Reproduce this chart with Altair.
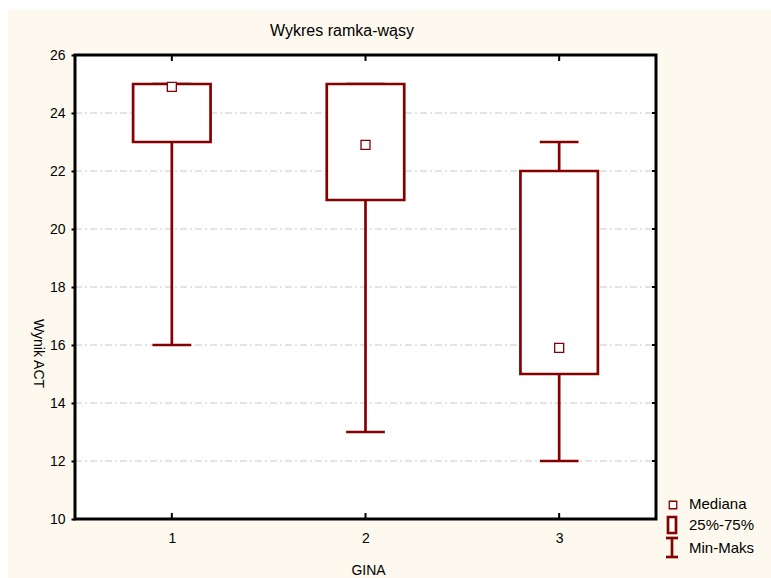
import altair as alt
import pandas as pd

# Box-and-whisker summary of ACT scores for each GINA group
groups = [1, 2, 3]
mins = [16, 13, 12]
q1s = [23, 21, 15]
medians = [24.9, 22.9, 15.9]
q3s = [25, 25, 22]
maxs = [25, 25, 23]

y_ticks = [10, 12, 14, 16, 18, 20, 22, 24, 26]
grid_vals = [12, 14, 16, 18, 20, 22, 24]

legend_labels = ["Mediana", "25%-75%", "Min-Maks"]

W, H = 581, 464
RED = "#850000"
CREAM = "#FDF9EE"
FONT = "Liberation Sans"
BOX_HALF = 0.2
CAP_HALF = 0.1
LW = 2.7

df = pd.DataFrame({
    "grupa": groups, "min": mins, "q1": q1s,
    "med": medians, "q3": q3s, "max": maxs,
})
grid_df = pd.DataFrame({"v": grid_vals})
one = pd.DataFrame({"k": [0]})

xs = alt.Scale(domain=[0.5, 3.5], nice=False, zero=False)
ys = alt.Scale(domain=[10, 26], nice=False, zero=False)

# the same axis definitions are given to every layer so they merge cleanly
ax_x = alt.Axis(values=groups, title="GINA", ticks=False, tickSize=0,
                labelPadding=12, domain=False, grid=False, zindex=1,
                labelFontSize=14, labelColor="black", labelFont=FONT,
                titleFont=FONT, titleFontSize=14, titleFontWeight="normal",
                titleColor="black", titleX=293, titleY=51,
                titleBaseline="middle", titleAlign="center")
ax_y = alt.Axis(values=y_ticks, title="Wynik ACT", tickSize=4, tickWidth=2,
                tickColor="black", labelPadding=6, domain=False, grid=False,
                zindex=1, labelFontSize=14, labelColor="black", labelFont=FONT,
                titleFont=FONT, titleFontSize=14, titleFontWeight="normal",
                titleColor="black", titleAngle=90, titleX=-38, titleY=298,
                titleAlign="center", titleBaseline="middle")

base = alt.Chart(df).transform_calculate(
    box_lo=f"datum.grupa - {BOX_HALF}",
    box_hi=f"datum.grupa + {BOX_HALF}",
    cap_lo=f"datum.grupa - {CAP_HALF}",
    cap_hi=f"datum.grupa + {CAP_HALF}",
)

# page background: white strip at top/left, cream panel, white plot area
cream = alt.Chart(one).mark_rect(color=CREAM).encode(
    x=alt.value(-67), x2=alt.value(696), y=alt.value(-45), y2=alt.value(523))
plot_bg = alt.Chart(one).mark_rect(color="white").encode(
    x=alt.value(0), x2=alt.value(W), y=alt.value(0), y2=alt.value(H))

grid = alt.Chart(grid_df).mark_rule(
    color="#C8C8C8", strokeWidth=1, strokeDash=[7, 3, 2, 3]
).encode(x=alt.value(0), x2=alt.value(W),
         y=alt.Y("v:Q", scale=ys, axis=ax_y))

right_ticks = alt.Chart(grid_df).mark_rule(color="black", strokeWidth=2).encode(
    x=alt.value(W - 4), x2=alt.value(W), y=alt.Y("v:Q", scale=ys, axis=ax_y))

top_ticks = alt.Chart(df).mark_rule(color="black", strokeWidth=2).encode(
    x=alt.X("grupa:Q", scale=xs, axis=ax_x), y=alt.value(0), y2=alt.value(6))
bottom_ticks = alt.Chart(df).mark_rule(color="black", strokeWidth=2).encode(
    x=alt.X("grupa:Q", scale=xs, axis=ax_x), y=alt.value(H - 6), y2=alt.value(H))

whisk_lo = base.mark_rule(color=RED, strokeWidth=LW).encode(
    x=alt.X("grupa:Q", scale=xs, axis=ax_x),
    y=alt.Y("min:Q", scale=ys, axis=ax_y), y2="q1:Q")
whisk_hi = base.mark_rule(color=RED, strokeWidth=LW).encode(
    x=alt.X("grupa:Q", scale=xs, axis=ax_x),
    y=alt.Y("q3:Q", scale=ys, axis=ax_y), y2="max:Q")
cap_lo = base.mark_rule(color=RED, strokeWidth=LW).encode(
    x=alt.X("cap_lo:Q", scale=xs, axis=ax_x), x2="cap_hi:Q",
    y=alt.Y("min:Q", scale=ys, axis=ax_y))
cap_hi = base.mark_rule(color=RED, strokeWidth=LW).encode(
    x=alt.X("cap_lo:Q", scale=xs, axis=ax_x), x2="cap_hi:Q",
    y=alt.Y("max:Q", scale=ys, axis=ax_y))

boxes = base.mark_rect(fill="white", stroke=RED, strokeWidth=LW).encode(
    x=alt.X("box_lo:Q", scale=xs, axis=ax_x), x2="box_hi:Q",
    y=alt.Y("q1:Q", scale=ys, axis=ax_y), y2="q3:Q")

med = base.mark_square(fill="white", stroke=RED, strokeWidth=1.3, size=81, opacity=1).encode(
    x=alt.X("grupa:Q", scale=xs, axis=ax_x),
    y=alt.Y("med:Q", scale=ys, axis=ax_y))

frame = alt.Chart(one).mark_rect(fill=None, stroke="black", strokeWidth=3).encode(
    x=alt.value(0), x2=alt.value(W), y=alt.value(0), y2=alt.value(H))

title = alt.Chart(one).mark_text(
    text="Wykres ramka-wąsy", font=FONT, fontSize=16, color="black",
    align="center", baseline="middle"
).encode(x=alt.value(267), y=alt.value(-24))

# legend glyphs and labels
lg_med = alt.Chart(one).mark_square(fill="white", stroke=RED, strokeWidth=1.3,
                                    size=56, opacity=1).encode(
    x=alt.value(598), y=alt.value(450))
lg_box = alt.Chart(one).mark_rect(fill="white", stroke=RED, strokeWidth=LW).encode(
    x=alt.value(593), x2=alt.value(601), y=alt.value(462), y2=alt.value(478))
lg_stem = alt.Chart(one).mark_rule(color=RED, strokeWidth=LW).encode(
    x=alt.value(597), y=alt.value(483), y2=alt.value(502))
lg_cap1 = alt.Chart(one).mark_rule(color=RED, strokeWidth=LW).encode(
    x=alt.value(591), x2=alt.value(603), y=alt.value(483))
lg_cap2 = alt.Chart(one).mark_rule(color=RED, strokeWidth=LW).encode(
    x=alt.value(591), x2=alt.value(603), y=alt.value(502))

lg_texts = [
    alt.Chart(one).mark_text(text=lbl, font=FONT, fontSize=15, color="black",
                             align="left", baseline="middle").encode(
        x=alt.value(614), y=alt.value(yy))
    for lbl, yy in zip(legend_labels, [449, 470, 493])
]

chart = alt.layer(
    cream, plot_bg, grid, right_ticks, top_ticks, bottom_ticks,
    whisk_lo, whisk_hi, cap_lo, cap_hi, boxes, med, frame, title,
    lg_med, lg_box, lg_stem, lg_cap1, lg_cap2, *lg_texts,
).properties(
    width=W, height=H,
    padding={"left": 75, "top": 55, "right": 115, "bottom": 59},
    autosize=alt.AutoSizeParams(type="none"),
    background="white",
).configure_view(stroke=None)

chart.save("out.html", embed_options={"renderer": "svg", "actions": False})
